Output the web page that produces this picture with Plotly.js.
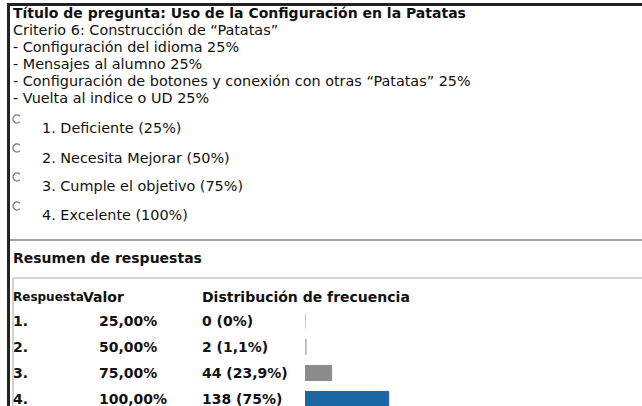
<!DOCTYPE html>
<html>
<head>
<meta charset="utf-8">
<script src="https://cdn.plot.ly/plotly-3.0.1.min.js"></script>
<style>html,body{margin:0;padding:0;background:#fff;}#chart{width:642px;height:406px;}</style>
</head>
<body>
<div id="chart"></div>
<script>
// ---- data ----
const tituloPregunta = 'Título de pregunta: Uso de la Configuración en la Patatas';
const lineasCriterio = [
  'Criterio 6: Construcción de “Patatas”',
  '- Configuración del idioma 25%',
  '- Mensajes al alumno 25%',
  '- Configuración de botones y conexión con otras “Patatas” 25%',
  '- Vuelta al indice o UD 25%'
];
const opciones = ['1. Deficiente (25%)', '2. Necesita Mejorar (50%)', '3. Cumple el objetivo (75%)', '4. Excelente (100%)'];
const resumenTitulo = 'Resumen de respuestas';
const encabezados = ['Respuesta', 'Valor', 'Distribución de frecuencia'];
const respuestas = ['1.', '2.', '3.', '4.'];
const valores = ['25,00%', '50,00%', '75,00%', '100,00%'];
const conteos = [0, 2, 44, 138];
const porcentajes = [0, 1.1, 23.9, 75];

// ---- layout helpers (pixel -> paper) ----
const W = 642, H = 406;
const px = x => x / W;
const py = y => 1 - y / H;
const FONT = 'DejaVu Sans, Verdana, sans-serif';
const FS_BOLD = 14;
const FS_REG = 14.4;

const annotations = [];
function txt(text, x, y, bold, extra, size) {
  annotations.push(Object.assign({
    text: bold ? '<b>' + text + '</b>' : text,
    xref: 'paper', yref: 'paper', x: px(x), y: py(y),
    xanchor: 'left', yanchor: 'middle', showarrow: false,
    borderpad: 0, borderwidth: 0,
    font: {family: FONT, size: size || (bold ? FS_BOLD : FS_REG), color: '#111'}
  }, extra || {}));
}

txt(tituloPregunta, 13, 13, true);
const lineY = [30, 47, 64, 81, 98];
lineasCriterio.forEach((t, i) => txt(t, 13, lineY[i], false));
const optY = [128, 158, 186, 215];
opciones.forEach((t, i) => txt(t, 42, optY[i], false));
txt(resumenTitulo, 13, 258, true);
const colX = [13, 83, 202];
const colSize = [12, FS_BOLD, FS_BOLD];
encabezados.forEach((t, i) => txt(t, colX[i], 297, true, null, colSize[i]));

const fmt = v => String(v).replace('.', ',');
const etiquetas = conteos.map((c, i) => c + ' (' + fmt(porcentajes[i]) + '%)');
respuestas.forEach((r, i) => {
  // category index (a label like '1.' would be read as the number 1)
  const common = {yref: 'y', y: i};
  txt(r, 13, 0, true, common);
  txt(valores[i], 99, 0, true, common);
  txt(etiquetas[i], 202, 0, true, common);
});

// ---- shapes: page borders, separators, radio circles ----
const shapes = [
  {type: 'line', xref: 'paper', yref: 'paper', x0: px(7), x1: 1, y0: py(4.5), y1: py(4.5), line: {color: '#222', width: 3}},
  {type: 'line', xref: 'paper', yref: 'paper', x0: px(8.5), x1: px(8.5), y0: py(3), y1: 0, line: {color: '#222', width: 3}},
  {type: 'line', xref: 'paper', yref: 'paper', x0: px(10), x1: 1, y0: py(240), y1: py(240), line: {color: '#a5a5a5', width: 2}},
  {type: 'line', xref: 'paper', yref: 'paper', x0: px(13), x1: 1, y0: py(278), y1: py(278), line: {color: '#c4c4c4', width: 1.5}},
  {type: 'line', xref: 'paper', yref: 'paper', x0: px(13), x1: px(13), y0: py(278), y1: 0, line: {color: '#c4c4c4', width: 1.5}}
];
const radioY = [119, 148, 177, 206];
function arcPath(r) {
  const k = 0.5523 * r;
  const pts = [45, 135, 225, 315].map(a => {
    const t = a * Math.PI / 180;
    return {x: r * Math.cos(t), y: r * Math.sin(t), tx: -Math.sin(t), ty: Math.cos(t)};
  });
  let d = 'M' + pts[0].x.toFixed(2) + ',' + pts[0].y.toFixed(2);
  for (let i = 0; i < 3; i++) {
    const a = pts[i], b = pts[i + 1];
    d += ' C' + (a.x + k * a.tx).toFixed(2) + ',' + (a.y + k * a.ty).toFixed(2) + ' ' +
         (b.x - k * b.tx).toFixed(2) + ',' + (b.y - k * b.ty).toFixed(2) + ' ' +
         b.x.toFixed(2) + ',' + b.y.toFixed(2);
  }
  return d;
}
radioY.forEach(y => shapes.push({
  type: 'path', xref: 'paper', yref: 'paper',
  xsizemode: 'pixel', ysizemode: 'pixel', xanchor: px(17), yanchor: py(y),
  path: arcPath(4), line: {color: '#7a7a7a', width: 1.3}
}));

// ---- bars ----
const barColors = ['#c4c4c4', '#c4c4c4', '#8b8b8b', '#1a67a3'];
const lineColors = ['#b8b8b8', '#b8b8b8', '#8b8b8b', '#1a67a3'];
const trace = {
  type: 'bar', orientation: 'h',
  x: porcentajes, y: respuestas,
  width: 0.58,
  marker: {color: barColors, line: {color: lineColors, width: 1}},
  hoverinfo: 'skip'
};

const layout = {
  width: W, height: H,
  margin: {l: 0, r: 0, t: 0, b: 0},
  paper_bgcolor: '#fff', plot_bgcolor: 'rgba(0,0,0,0)',
  showlegend: false,
  xaxis: {domain: [px(305), px(416.6)], range: [0, 100], visible: false, fixedrange: true},
  yaxis: {domain: [0, 1 - 308 / H], type: 'category', categoryorder: 'array', categoryarray: respuestas,
          range: [3 + 7 / 26, -0.5], visible: false, fixedrange: true},
  annotations: annotations,
  shapes: shapes
};

Plotly.newPlot('chart', [trace], layout, {displayModeBar: false, staticPlot: true});
</script>
</body>
</html>
